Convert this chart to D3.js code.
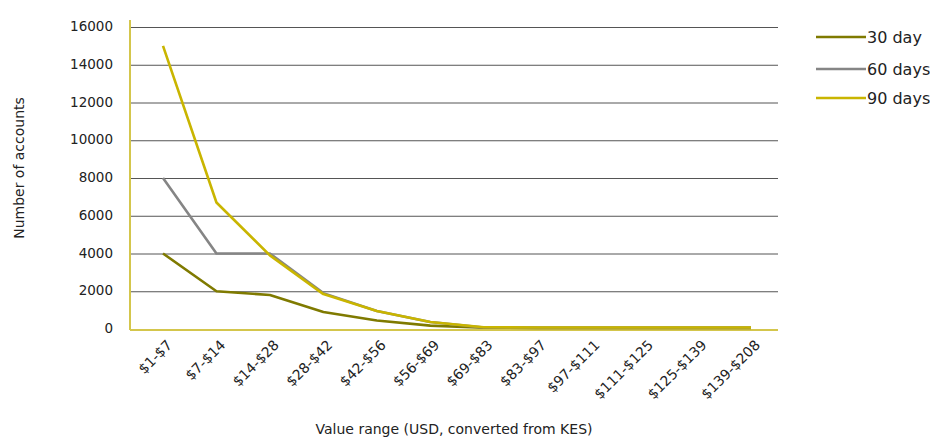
<!DOCTYPE html>
<html><head><meta charset="utf-8">
<script src="https://cdn.jsdelivr.net/npm/d3@7/dist/d3.min.js"></script>
<style>body{margin:0;background:#fff}svg{display:block}text{font-family:"DejaVu Sans",sans-serif;fill:#222}</style>
</head><body>
<svg id="c" width="930" height="437"></svg>
<script>
const categories = ["$1-$7","$7-$14","$14-$28","$28-$42","$42-$56","$56-$69","$69-$83","$83-$97","$97-$111","$111-$125","$125-$139","$139-$208"];
const day30 = [4000,2000,1800,900,450,180,70,60,60,60,60,60];
const day60 = [8000,4000,4000,1900,950,370,80,70,70,70,70,70];
const day90 = [15000,6700,3900,1850,950,370,90,80,80,80,80,80];
const yTicks = [0,2000,4000,6000,8000,10000,12000,14000,16000];
const seriesNames = ["30 day","60 days","90 days"];
const seriesColors = ["#7f7a00","#858585","#c9b500"];
const seriesData = [day30, day60, day90];

(function(){
const svg = d3.select("#c");
const pLeft = 130, pRight = 778, pTop = 27, pBottom = 329;
const y = d3.scaleLinear().domain([0,16000]).range([pBottom, pTop]);
const x = d3.scalePoint().domain(categories).range([163, 751]);

svg.append("g").selectAll("line").data(yTicks.filter(d=>d>0)).join("line")
  .attr("x1", pLeft).attr("x2", pRight)
  .attr("y1", d=>y(d)+0.5).attr("y2", d=>y(d)+0.5)
  .attr("stroke", "#555").attr("stroke-width", 1);

svg.append("g").selectAll("text").data(yTicks).join("text")
  .attr("x", 113).attr("y", d=>y(d)+4)
  .attr("text-anchor","end").attr("font-size", 13.5).text(d=>d);

svg.append("line").attr("x1", pLeft).attr("x2", pLeft).attr("y1", 20).attr("y2", pBottom+1)
  .attr("stroke","#d4c64c").attr("stroke-width",2);
svg.append("line").attr("x1", pLeft).attr("x2", pRight).attr("y1", pBottom+1).attr("y2", pBottom+1)
  .attr("stroke","#d4c64c").attr("stroke-width",2);

const line = d3.line().x((d,i)=>x(categories[i])).y(d=>y(d));
seriesData.forEach((s,k)=>{
  svg.append("path").datum(s).attr("d", line)
    .attr("fill","none").attr("stroke", seriesColors[k]).attr("stroke-width", 2.6)
    .attr("stroke-linejoin","round");
});

svg.append("g").selectAll("text").data(categories).join("text")
  .attr("transform", d=>`translate(${x(d)+3},${pBottom+10}) rotate(-45)`)
  .attr("text-anchor","end").attr("dy","0.7em").attr("font-size", 14).text(d=>d);

svg.append("text").attr("x", 454).attr("y", 434).attr("text-anchor","middle")
  .attr("font-size", 14).text("Value range (USD, converted from KES)");
svg.append("text").attr("transform","translate(24,168) rotate(-90)").attr("text-anchor","middle")
  .attr("font-size", 14).text("Number of accounts");

const lg = svg.append("g");
seriesNames.forEach((n,k)=>{
  const ly = [37,69,98][k];
  lg.append("line").attr("x1",816).attr("x2",866).attr("y1",ly).attr("y2",ly)
    .attr("stroke",seriesColors[k]).attr("stroke-width",2.6);
  lg.append("text").attr("x",867).attr("y",ly+6).attr("font-size",16).text(n);
});
})();
</script>
</body></html>
